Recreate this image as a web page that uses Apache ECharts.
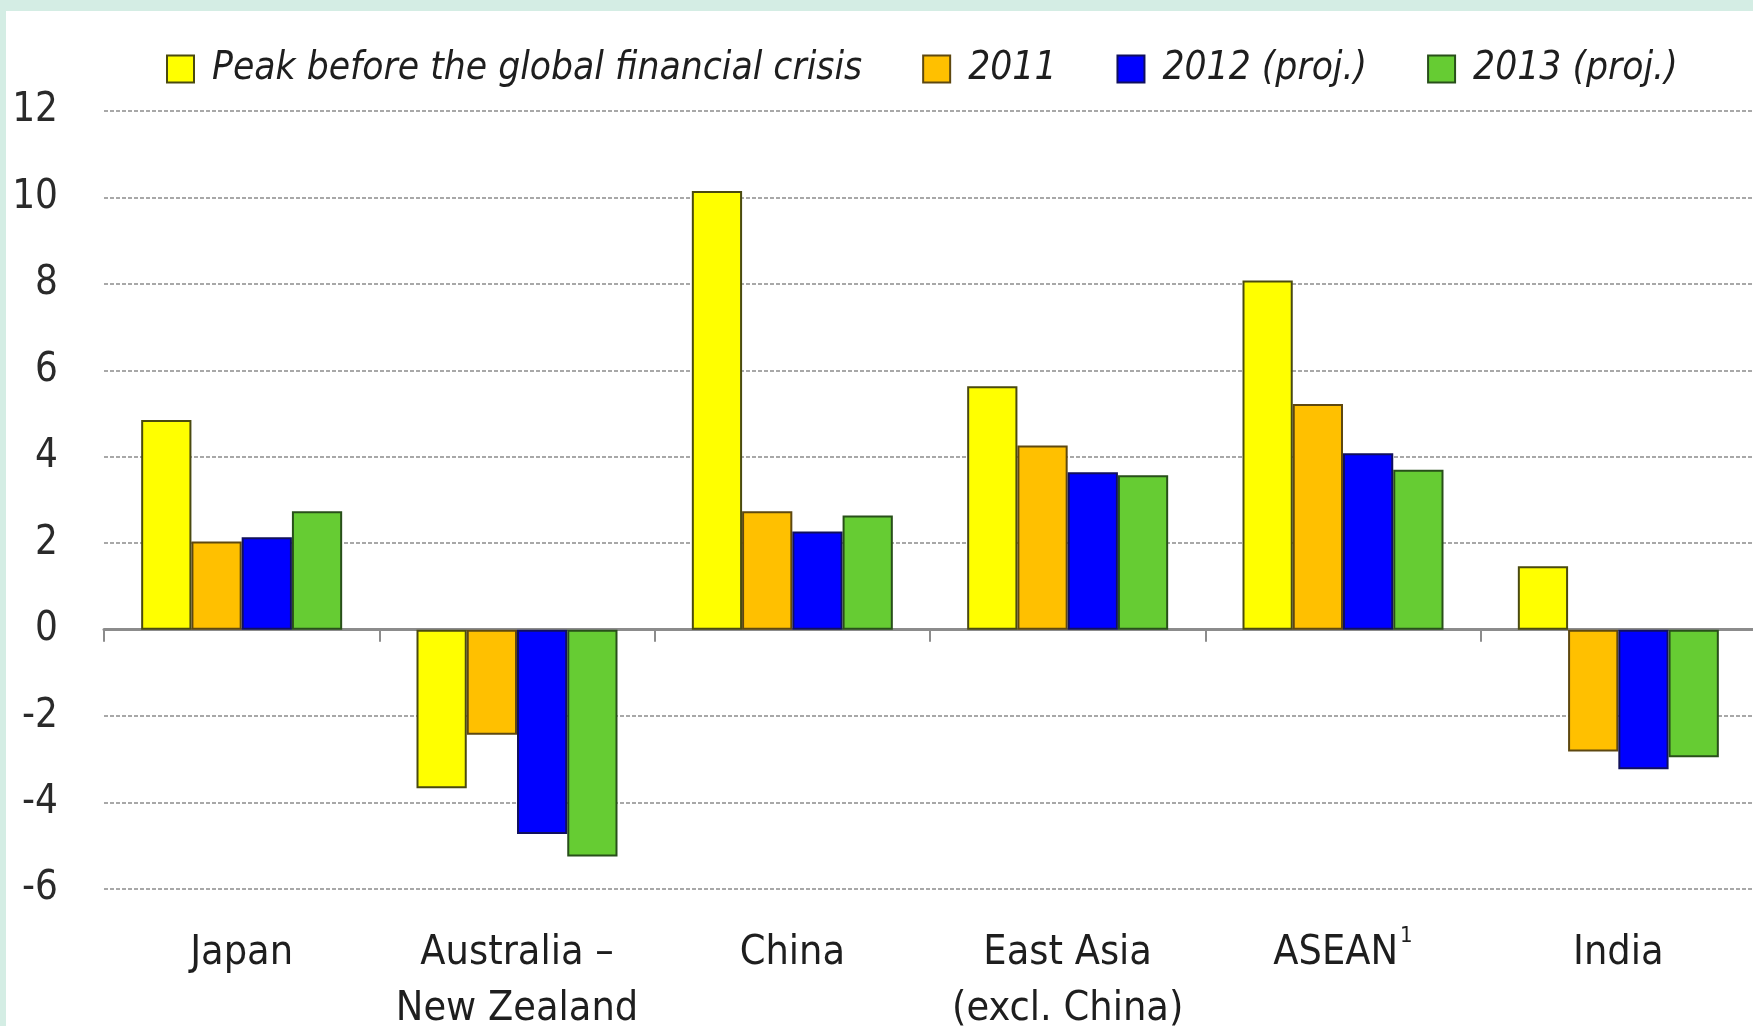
<!DOCTYPE html>
<html>
<head>
<meta charset="utf-8">
<script src="https://cdn.jsdelivr.net/npm/echarts@6/dist/echarts.min.js"></script>
<style>
html,body{margin:0;padding:0;width:1753px;height:1026px;background:#d4ede4;overflow:hidden;}
#bg{position:absolute;left:6px;top:11px;right:0;bottom:0;background:#ffffff;}
#chart{position:absolute;left:0;top:0;width:1753px;height:1026px;}
</style>
</head>
<body>
<div id="bg"></div>
<div id="chart"></div>
<script>
const categories = ['Japan', 'Australia –\nNew Zealand', 'China', 'East Asia\n(excl. China)', 'ASEAN{s|1}', 'India'];
const seriesNames = ['Peak before the global financial crisis', '2011', '2012 (proj.)', '2013 (proj.)'];
const peakValues = [4.85, -3.67, 10.15, 5.63, 8.08, 1.47];
const values2011 = [2.04, -2.43, 2.74, 4.26, 5.22, -2.82];
const values2012 = [2.14, -4.73, 2.27, 3.64, 4.08, -3.23];
const values2013 = [2.74, -5.25, 2.64, 3.57, 3.70, -2.95];
const yTicks = { min: -6, max: 12, interval: 2 };

const fills = ['#ffff00', '#ffc000', '#0000ff', '#66cc33'];
const borders = ['#4a4a10', '#5e4810', '#10105e', '#284f1a'];
const allValues = [peakValues, values2011, values2012, values2013];

const chart = echarts.init(document.getElementById('chart'), null, { renderer: 'canvas' });
const catFont = '"DejaVu Sans Condensed", "Liberation Sans Narrow", sans-serif';

chart.setOption({
  backgroundColor: 'transparent',
  animation: false,
  legend: {
    data: seriesNames,
    left: 161,
    top: 41,
    itemWidth: 27,
    itemHeight: 27,
    itemGap: 60,
    icon: 'rect',
    textStyle: {
      fontFamily: catFont,
      fontStyle: 'italic',
      fontSize: 38.6,
      lineHeight: 46,
      color: '#1e1e1e',
      padding: [0, 0, 0, 13]
    }
  },
  grid: { left: 104, right: -3, top: 111, bottom: 137, containLabel: false, outerBoundsMode: 'none' },
  xAxis: [
    {
      type: 'category',
      data: categories,
      axisLine: { show: true, onZero: true, lineStyle: { color: '#8c8c8c', width: 3 } },
      axisTick: { show: true, length: 12, lineStyle: { color: '#8c8c8c', width: 2 } },
      axisLabel: { show: false },
      splitLine: { show: false }
    },
    {
      type: 'category',
      data: categories,
      position: 'bottom',
      axisLine: { show: false, onZero: false },
      axisTick: { show: false },
      splitLine: { show: false },
      axisLabel: {
        show: true,
        interval: 0,
        margin: 36,
        fontFamily: catFont,
        fontSize: 41,
        lineHeight: 56,
        color: '#1e1e1e',
        rich: {
          s: { fontFamily: catFont, fontSize: 22, verticalAlign: 'top', lineHeight: 56, padding: [0, 0, 20, 2], color: '#1e1e1e' }
        }
      }
    }
  ],
  yAxis: {
    type: 'value',
    min: yTicks.min,
    max: yTicks.max,
    interval: yTicks.interval,
    axisLine: { show: false },
    axisTick: { show: false },
    axisLabel: {
      margin: 46,
      fontFamily: '"DejaVu Sans Condensed", "DejaVu Sans", sans-serif',
      fontSize: 40,
      color: '#2a2a2a'
    },
    splitLine: { show: true, lineStyle: { color: '#a8a8a8', width: 2, type: [4, 2] } }
  },
  series: seriesNames.map((name, i) => ({
    name: name,
    type: 'bar',
    xAxisIndex: 0,
    data: allValues[i],
    barGap: '0%',
    barCategoryGap: '27%',
    itemStyle: { color: fills[i], borderColor: borders[i], borderWidth: 2 },
    z: 3
  }))
});
</script>
</body>
</html>
